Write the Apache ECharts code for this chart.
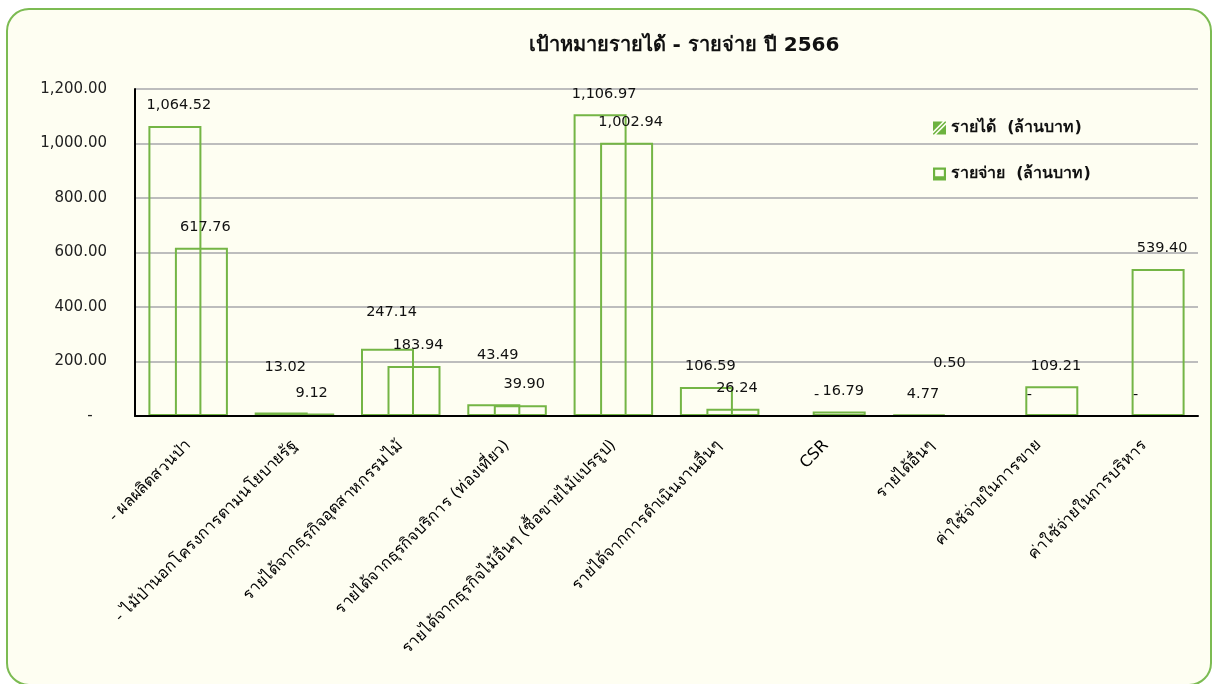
<!DOCTYPE html>
<html>
<head>
<meta charset="utf-8">
<script src="https://cdn.jsdelivr.net/npm/echarts@6/dist/echarts.min.js"></script>
<style>
  html, body { margin: 0; padding: 0; background: #ffffff; }
  #chart { width: 1213px; height: 684px; }
</style>
</head>
<body>
<div id="chart"></div>
<script>
// Income / expense targets for fiscal year 2566 (million baht)
const categories = [
  '- ผลผลิตสวนป่า',
  '- ไม้ป่านอกโครงการตามนโยบายรัฐ',
  'รายได้จากธุรกิจอุตสาหกรรมไม้',
  'รายได้จากธุรกิจบริการ (ท่องเที่ยว)',
  'รายได้จากธุรกิจไม้อื่นๆ (ซื้อขายไม้แปรรูป)',
  'รายได้จากการดำเนินงานอื่นๆ',
  'CSR',
  'รายได้อื่นๆ',
  'ค่าใช้จ่ายในการขาย',
  'ค่าใช้จ่ายในการบริหาร'
];
const revenue = [1064.52, 13.02, 247.14, 43.49, 1106.97, 106.59, 0, 4.77, 0, 0];
const expense = [617.76, 9.12, 183.94, 39.90, 1002.94, 26.24, 16.79, 0.50, 109.21, 539.40];
const yAxisMin = 0;
const yAxisMax = 1200;
const yAxisStep = 200;

const seriesNames = ['รายได้  (ล้านบาท)', 'รายจ่าย  (ล้านบาท)'];
const titleText = 'เป้าหมายรายได้ - รายจ่าย ปี 2566';

// extra vertical lift (px) for labels that would otherwise collide
const revenueLabelLift = [0, -25, -16, -28, 0, 0, 0, 0, 0, 0];
const expenseLabelLift = [0, 0, 0, 0, 0, 0, 0, -31, 0, 0];

const FONT = '"DejaVu Sans", Tahoma, Verdana, sans-serif';
const GREEN = '#74b545';

function fmt(v) {
  if (v === 0) return '-';
  return v.toLocaleString('en-US', { minimumFractionDigits: 2, maximumFractionDigits: 2 });
}

function barSeries(name, values, lift) {
  return {
    name: name,
    type: 'bar',
    barWidth: 53,
    barGap: '-50%',
    itemStyle: { color: 'rgba(0,0,0,0)', borderColor: GREEN, borderWidth: 2 },
    label: {
      show: true,
      position: 'top',
      distance: 13,
      fontFamily: FONT,
      fontSize: 14.5,
      color: '#111',
      formatter: p => fmt(p.value)
    },
    data: values.map((v, i) => ({
      value: v,
      // a zero bar has no outline of its own, only its label
      itemStyle: v === 0 ? { borderWidth: 0 } : undefined,
      label: { offset: [4, lift[i]] }
    }))
  };
}

const chart = echarts.init(document.getElementById('chart'));
chart.setOption({
  animation: false,
  backgroundColor: '#ffffff',
  graphic: [
    {
      type: 'rect',
      z: -10,
      silent: true,
      shape: { x: 7, y: 9, width: 1204, height: 676, r: 22 },
      style: { fill: '#fefef2', stroke: '#7cbb52', lineWidth: 2 }
    },
    {
      type: 'text',
      x: 684,
      y: 46,
      style: {
        text: titleText,
        align: 'center',
        verticalAlign: 'middle',
        fontFamily: FONT,
        fontSize: 20,
        fontWeight: 'bold',
        fill: '#111'
      }
    }
  ],
  legend: {
    orient: 'vertical',
    left: 928,
    top: 115,
    itemWidth: 13,
    itemHeight: 13,
    itemGap: 30,
    textStyle: { fontFamily: FONT, fontSize: 16, fontWeight: 'bold', color: '#111' },
    data: [
      {
        name: seriesNames[0],
        icon: 'path://M0,0 L9,0 L0,9 Z M12,3 L12,12 L3,12 Z M0,12 L0,11 L11,0 L12,0 L12,1 L1,12 Z',
        itemStyle: { color: '#6db33f', borderWidth: 0 }
      },
      {
        name: seriesNames[1],
        icon: 'path://M0,0 L12,0 L12,12 L0,12 Z M2,2 L2,8 L10,8 L10,2 Z',
        itemStyle: { color: '#6db33f', borderWidth: 0 }
      }
    ]
  },
  grid: { left: 135, right: 15, top: 89, bottom: 268, containLabel: false },
  xAxis: {
    type: 'category',
    data: categories,
    z: 5,
    axisLine: { lineStyle: { color: '#000', width: 2 } },
    axisTick: { show: false },
    axisLabel: {
      interval: 0,
      rotate: 45,
      margin: 27,
      fontFamily: FONT,
      fontSize: 16,
      color: '#000'
    }
  },
  yAxis: {
    type: 'value',
    min: yAxisMin,
    max: yAxisMax,
    interval: yAxisStep,
    axisLine: { show: true, lineStyle: { color: '#000', width: 2 } },
    axisTick: { show: false },
    splitLine: { lineStyle: { color: '#bdbdbd', width: 2 } },
    axisLabel: {
      margin: 28,
      fontFamily: FONT,
      fontSize: 15,
      color: '#222',
      formatter: v => (v === 0 ? '-   ' : fmt(v))
    }
  },
  series: [
    barSeries(seriesNames[0], revenue, revenueLabelLift),
    barSeries(seriesNames[1], expense, expenseLabelLift)
  ]
});
</script>
</body>
</html>
